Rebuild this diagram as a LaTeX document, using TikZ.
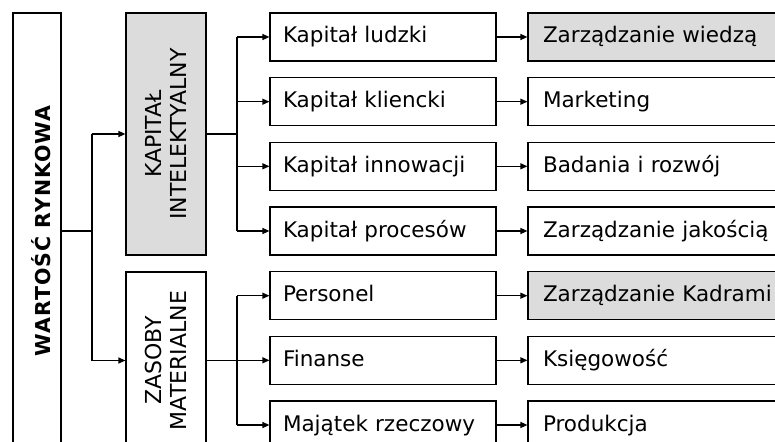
\documentclass[tikz,border=0pt]{standalone}
\usepackage{fontspec}
\setmainfont{DejaVu Sans}
\usetikzlibrary{arrows.meta}
\definecolor{boxgray}{RGB}{220,220,220}
\newcommand{\midfont}{\fontsize{22}{25}\selectfont}
\newcommand{\twolines}[2]{\rotatebox{90}{\midfont\begin{tabular}{@{}c@{}}\rule{0pt}{23.5pt}#1\\#2\end{tabular}}}
\begin{document}
\begin{tikzpicture}[x=1pt,y=-1pt,
  line width=1.2pt,
  arr/.style={-{Triangle[length=7pt,width=6pt]}},
  box/.style={draw=black, line width=1.2pt, inner sep=0pt, fill=white},
  shaded/.style={fill=boxgray},
  lvtwo/.style={box, minimum height=48pt, text width=200pt, inner xsep=13pt, inner ysep=0pt, align=left,
    font=\fontsize{21.5}{26}\selectfont, text height=16pt, text depth=4pt},
  lvthree/.style={box, minimum height=48pt, text width=260pt, inner xsep=15pt, inner ysep=0pt, align=left,
    font=\fontsize{21.5}{26}\selectfont, text height=16pt, text depth=4pt},
  sidebox/.style={box, minimum width=80pt}
]
\useasboundingbox (0,0) rectangle (775,441);
\clip (0,0) rectangle (775,441);
\fill[white] (0,0) rectangle (775,441);

% left column
\node[box, minimum width=48pt, minimum height=436pt] (w) at (37,231)
  {\rotatebox{90}{\fontsize{20.5}{24}\selectfont\bfseries\addfontfeature{LetterSpace=5}\rule[-1pt]{0pt}{28pt}WARTOŚĆ RYNKOWA}};

% middle column
\node[sidebox, shaded, minimum height=242pt] (kap) at (166,134) {\twolines{KAPITAŁ}{INTELEKTYALNY}};
\node[sidebox, minimum height=177pt] (zas) at (166,360.5) {\twolines{ZASOBY}{MATERIALNE}};

% level 2
\node[lvtwo] (a1) at (383,37)    {Kapitał ludzki};
\node[lvtwo] (a2) at (383,101.7) {Kapitał kliencki};
\node[lvtwo] (a3) at (383,166.3) {Kapitał innowacji};
\node[lvtwo] (a4) at (383,231)   {Kapitał procesów};
\node[lvtwo] (a5) at (383,295.7) {Personel};
\node[lvtwo] (a6) at (383,360.3) {Finanse};
\node[lvtwo] (a7) at (383,425)   {Majątek rzeczowy};

% level 3
\node[lvthree, shaded] (b1) at (673,37)    {Zarządzanie wiedzą};
\node[lvthree] (b2) at (673,101.7) {Marketing};
\node[lvthree] (b3) at (673,166.3) {Badania i rozwój};
\node[lvthree] (b4) at (673,231)   {Zarządzanie jakością};
\node[lvthree, shaded] (b5) at (673,295.7) {Zarządzanie Kadrami};
\node[lvthree] (b6) at (673,360.3) {Księgowość};
\node[lvthree] (b7) at (673,425)   {Produkcja};

% connectors from the left box
\coordinate (wbus) at (92,231);
\draw (w.east) -- (wbus);
\draw (wbus |- kap) -- (wbus |- zas);
\draw[arr] (wbus |- kap) -- (kap.west);
\draw[arr] (wbus |- zas) -- (zas.west);

% bus for KAPITAŁ
\coordinate (kbus) at (237,134);
\draw (kap.east) -- (kbus);
\draw (kbus |- a1) -- (kbus |- a4);
\foreach \i in {1,2,3,4} {\draw[arr] (kbus |- a\i) -- (a\i.west);}

% bus for ZASOBY
\coordinate (zbus) at (237,360.5);
\draw (zas.east) -- (zbus);
\draw (zbus |- a5) -- (zbus |- a7);
\foreach \i in {5,6,7} {\draw[arr] (zbus |- a\i) -- (a\i.west);}

% level 2 to level 3
\foreach \i in {1,...,7} {\draw[arr] (a\i.east) -- (b\i.west);}
\end{tikzpicture}
\end{document}
